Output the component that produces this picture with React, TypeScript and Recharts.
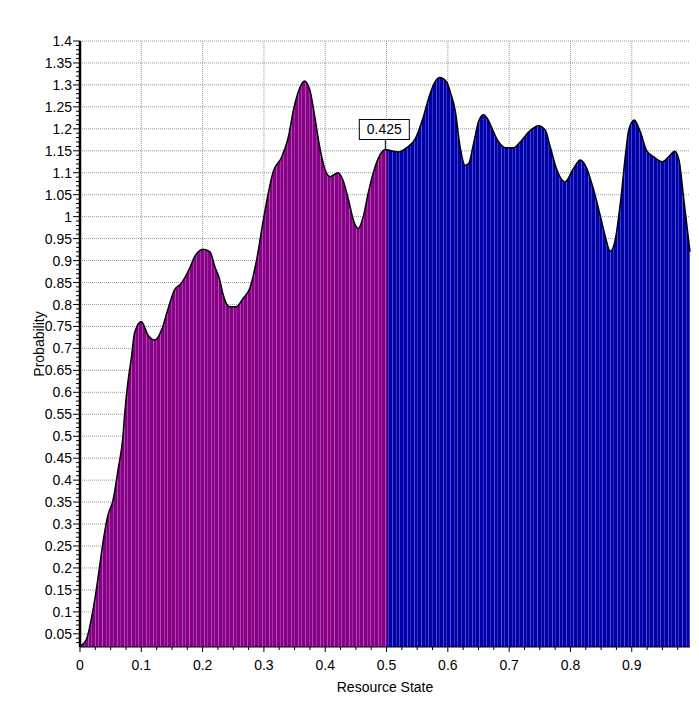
import React from "react";
import {
  ComposedChart,
  Area,
  XAxis,
  YAxis,
  CartesianGrid,
  ReferenceDot,
} from "recharts";

// Resource state (x) and probability (y)
const RESOURCE_STATE = [
  0.0, 0.01, 0.024, 0.04, 0.045, 0.054, 0.062, 0.07, 0.073, 0.078, 0.084,
  0.089, 0.1, 0.111, 0.122, 0.133, 0.143, 0.154, 0.165, 0.179, 0.187, 0.201,
  0.212, 0.22, 0.228, 0.233, 0.244, 0.255, 0.266, 0.277, 0.288, 0.299, 0.307,
  0.315, 0.329, 0.34, 0.348, 0.356, 0.366, 0.375, 0.383, 0.391, 0.4, 0.408,
  0.421, 0.429, 0.438, 0.446, 0.454, 0.462, 0.47, 0.478, 0.489, 0.498, 0.508,
  0.519, 0.533, 0.547, 0.56, 0.571, 0.579, 0.587, 0.598, 0.604, 0.612, 0.62,
  0.628, 0.634, 0.642, 0.65, 0.658, 0.666, 0.672, 0.683, 0.694, 0.707, 0.718,
  0.732, 0.748, 0.759, 0.767, 0.778, 0.791, 0.805, 0.816, 0.826, 0.838, 0.849,
  0.857, 0.865, 0.873, 0.882, 0.89, 0.895, 0.904, 0.914, 0.924, 0.936, 0.95,
  0.96, 0.97, 0.977, 0.985, 0.995,
];

const PROBABILITY = [
  0.022, 0.036, 0.127, 0.28, 0.317, 0.355, 0.423, 0.499, 0.553, 0.621, 0.681,
  0.735, 0.761, 0.73, 0.719, 0.742, 0.787, 0.833, 0.848, 0.883, 0.909, 0.926,
  0.92, 0.886, 0.856, 0.825, 0.795, 0.795, 0.814, 0.837, 0.901, 0.992, 1.053,
  1.102, 1.136, 1.182, 1.242, 1.284, 1.309, 1.288, 1.227, 1.159, 1.106, 1.091,
  1.1, 1.083, 1.038, 0.992, 0.973, 1.0, 1.053, 1.098, 1.14, 1.153, 1.15,
  1.147, 1.157, 1.178, 1.227, 1.28, 1.307, 1.317, 1.307, 1.284, 1.242, 1.159,
  1.117, 1.121, 1.167, 1.216, 1.232, 1.22, 1.201, 1.17, 1.157, 1.157, 1.17,
  1.193, 1.207, 1.197, 1.159, 1.106, 1.079, 1.11, 1.129, 1.112, 1.06, 1.0,
  0.954, 0.921, 0.947, 1.038, 1.144, 1.197, 1.22, 1.193, 1.151, 1.136, 1.125,
  1.136, 1.149, 1.129, 1.038, 0.92,
];

const X_MAJOR = [0, 0.1, 0.2, 0.3, 0.4, 0.5, 0.6, 0.7, 0.8, 0.9];
const Y_MAJOR = [
  0.05, 0.1, 0.15, 0.2, 0.25, 0.3, 0.35, 0.4, 0.45, 0.5, 0.55, 0.6, 0.65, 0.7,
  0.75, 0.8, 0.85, 0.9, 0.95, 1, 1.05, 1.1, 1.15, 1.2, 1.25, 1.3, 1.35, 1.4,
];
// minor tick marks: every 0.025 on x, every 0.01 on y
const X_TICKS = Array.from({ length: 40 }, (_, i) => +(i * 0.025).toFixed(3));
const Y_TICKS = Array.from({ length: 138 }, (_, i) => +(0.03 + i * 0.01).toFixed(2));

const SPLIT_AT = 0.5;
const X_MAX = 0.995;
const MARKER_X = 0.498;
const MARKER_Y = 1.153;
const MARKER_TEXT = "0.425";

const FONT = "'Liberation Sans', Arial, sans-serif";

const data = RESOURCE_STATE.map((x, i) => ({ x, p: PROBABILITY[i] }));

const isMajor = (v: number, per: number) =>
  Math.abs(v * per - Math.round(v * per)) < 1e-6;

const YTick = (props: any) => {
  const { x, y, payload } = props;
  const v = payload.value;
  const major = isMajor(v, 20);
  return (
    <g>
      <line x1={x} x2={x - (major ? 7 : 4)} y1={y} y2={y} stroke="#000" />
      {major && (
        <text
          x={x - 8}
          y={y}
          dy="0.36em"
          textAnchor="end"
          fontSize={14}
          fontFamily={FONT}
          fill="#000"
        >
          {String(v)}
        </text>
      )}
    </g>
  );
};

const XTick = (props: any) => {
  const { x, y, payload } = props;
  const v = payload.value;
  const major = isMajor(v, 10);
  return (
    <g>
      <line x1={x} x2={x} y1={y} y2={y + (major ? 5 : 3)} stroke="#000" />
      {major && (
        <text
          x={x}
          y={y + 23}
          textAnchor="middle"
          fontSize={14}
          fontFamily={FONT}
          fill="#000"
        >
          {String(v)}
        </text>
      )}
    </g>
  );
};

const Marker = (props: any) => {
  const { cx, cy } = props;
  if (cx == null || cy == null) return null;
  const bx = cx - 26;
  const by = cy - 30;
  return (
    <g>
      <line x1={cx} x2={cx} y1={cy} y2={cy - 10} stroke="#000" />
      <rect x={bx} y={by} width={50} height={20} fill="#fff" stroke="#000" />
      <text
        x={bx + 25}
        y={by + 15}
        textAnchor="middle"
        fontSize={14}
        fontFamily={FONT}
        fill="#000"
      >
        {MARKER_TEXT}
      </text>
    </g>
  );
};

export default function App() {
  const split = SPLIT_AT / X_MAX;
  return (
    <div
      style={{
        position: "absolute",
        left: 0,
        top: 0,
        width: 699,
        height: 716,
        background: "#fff",
        fontFamily: FONT,
      }}
    >
      <ComposedChart
        width={699}
        height={716}
        data={data}
        margin={{ top: 41, right: 9, bottom: 0, left: 0 }}
      >
        <defs>
          <linearGradient id="splitFill" x1="0" y1="0" x2="1" y2="0">
            <stop offset={0} stopColor="#880088" />
            <stop offset={split} stopColor="#880088" />
            <stop offset={split} stopColor="#0000aa" />
            <stop offset={1} stopColor="#0000aa" />
          </linearGradient>
          <pattern
            id="stripes"
            patternUnits="userSpaceOnUse"
            width={29}
            height={10}
          >
            <rect x={1} y={0} width={1} height={10} fill="#fff" fillOpacity={0.3} />
            <rect x={4} y={0} width={1} height={10} fill="#fff" fillOpacity={0.18} />
            <rect x={8} y={0} width={1} height={10} fill="#fff" fillOpacity={0.3} />
            <rect x={11} y={0} width={1} height={10} fill="#fff" fillOpacity={0.22} />
            <rect x={15} y={0} width={1} height={10} fill="#fff" fillOpacity={0.32} />
            <rect x={19} y={0} width={1} height={10} fill="#fff" fillOpacity={0.2} />
            <rect x={22} y={0} width={1} height={10} fill="#fff" fillOpacity={0.28} />
            <rect x={26} y={0} width={1} height={10} fill="#fff" fillOpacity={0.2} />
          </pattern>
        </defs>
        <CartesianGrid
          stroke="#999"
          strokeDasharray="1 1"
          horizontalValues={Y_MAJOR}
          verticalValues={X_MAJOR.filter((v) => v > 0)}
        />
        <Area
          dataKey="p"
          type="monotone"
          fill="url(#splitFill)"
          fillOpacity={1}
          stroke="none"
          dot={false}
          activeDot={false}
          isAnimationActive={false}
        />
        <Area
          dataKey="p"
          type="monotone"
          fill="url(#stripes)"
          fillOpacity={1}
          stroke="#000"
          strokeWidth={1.5}
          dot={false}
          activeDot={false}
          isAnimationActive={false}
        />
        <XAxis
          dataKey="x"
          type="number"
          domain={[0, X_MAX]}
          ticks={X_TICKS}
          interval={0}
          height={69}
          tickSize={0}
          tickMargin={0}
          tickLine={false}
          tick={<XTick />}
          axisLine={{ stroke: "#000", strokeWidth: 1 }}
          label={(p: any) => {
            const vb = p.viewBox || { x: 80, y: 647, width: 610 };
            return (
              <text
                x={vb.x + vb.width / 2}
                y={vb.y + 45}
                textAnchor="middle"
                fontSize={14}
                fontFamily={FONT}
                fill="#000"
              >
                Resource State
              </text>
            );
          }}
        />
        <YAxis
          type="number"
          domain={[0.02, 1.4]}
          ticks={Y_TICKS}
          interval={0}
          width={80}
          tickSize={0}
          tickMargin={0}
          tickLine={false}
          tick={<YTick />}
          axisLine={{ stroke: "#000", strokeWidth: 2.5 }}
          label={(p: any) => {
            const vb = p.viewBox || { x: 0, y: 41, width: 80, height: 606 };
            const lx = vb.x + 44;
            const ly = vb.y + vb.height / 2;
            return (
              <text
                x={lx}
                y={ly}
                transform={`rotate(-90, ${lx}, ${ly})`}
                textAnchor="middle"
                fontSize={14}
                fontFamily={FONT}
                fill="#000"
              >
                Probability
              </text>
            );
          }}
        />
        <ReferenceDot
          x={MARKER_X}
          y={MARKER_Y}
          r={0}
          shape={(p: any) => <Marker {...p} />}
        />
      </ComposedChart>
    </div>
  );
}
